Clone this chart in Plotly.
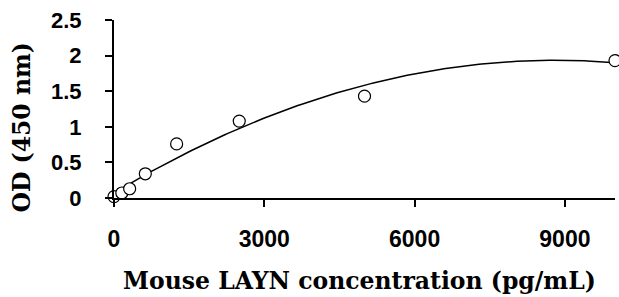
import numpy as np
import plotly.graph_objects as go

conc = [0, 156, 312.5, 625, 1250, 2500, 5000, 10000]
od = [0.02, 0.07, 0.13, 0.34, 0.76, 1.08, 1.43, 1.93]
x_ticks = [0, 3000, 6000, 9000]
y_ticks = [0, 0.5, 1, 1.5, 2, 2.5]
y_tick_labels = ["0", "0.5", "1", "1.5", "2", "2.5"]
x_title = "Mouse LAYN concentration (pg/mL)"
y_title = "OD (450 nm)"

coef = np.polyfit(conc, od, 2)
xs = np.linspace(0, 10000, 200)
ys = np.polyval(coef, xs)

fig = go.Figure()
fig.add_trace(go.Scatter(x=xs, y=ys, mode="lines", line=dict(color="black", width=1.5),
                         showlegend=False, cliponaxis=False))
fig.add_trace(go.Scatter(x=conc, y=od, mode="markers",
                         marker=dict(symbol="circle", size=12, color="white",
                                     line=dict(color="black", width=1.2)),
                         showlegend=False, cliponaxis=False))

xtickfont = dict(family="Liberation Sans", size=23, color="black", weight="bold")
ytickfont = dict(family="Liberation Sans", size=22, color="black", weight="bold")
titlefont = dict(family="DejaVu Serif", size=23.5, color="black", weight="bold")

W, H = 619, 297
L, R, T, B = 114, 4, 20, 99
pw, ph = W - L - R, H - T - B

fig.update_layout(
    width=W, height=H,
    margin=dict(l=L, r=R, t=T, b=B, autoexpand=False),
    paper_bgcolor="white", plot_bgcolor="white",
    xaxis=dict(range=[0, 10000], tickvals=x_ticks, ticktext=[str(v) for v in x_ticks],
               showgrid=False, zeroline=False, showline=True, linecolor="black", linewidth=2,
               ticks="outside", ticklen=7, tickwidth=2, tickcolor="black",
               tickfont=xtickfont, automargin=False, ticklabelstandoff=12),
    yaxis=dict(range=[0, 2.5], tickvals=y_ticks, ticktext=y_tick_labels,
               showgrid=False, zeroline=False, showline=True, linecolor="black", linewidth=2,
               ticks="outside", ticklen=7, tickwidth=2, tickcolor="black",
               tickfont=ytickfont, automargin=False, ticklabelstandoff=19),
    annotations=[
        dict(text=x_title, xref="paper", yref="paper",
             x=(359 - L) / pw, y=(H - B - 281) / ph, xanchor="center", yanchor="middle",
             showarrow=False, font=titlefont),
        dict(text=y_title, xref="paper", yref="paper", textangle=-90,
             x=(21.5 - L) / pw, y=(H - B - 128) / ph, xanchor="center", yanchor="middle",
             showarrow=False, font=titlefont),
    ],
)

fig.write_html("out.html", post_script="document.body.style.margin='0px';",
               config={"displayModeBar": False})
